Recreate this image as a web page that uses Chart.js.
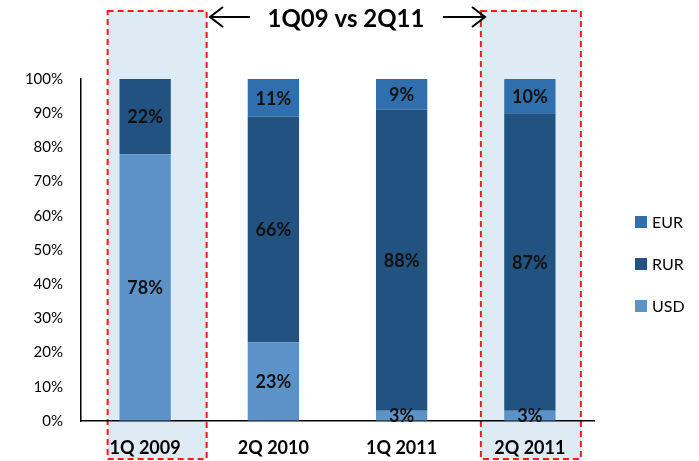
<!DOCTYPE html>
<html>
<head>
<meta charset="utf-8">
<script src="https://cdn.jsdelivr.net/npm/chart.js@4"></script>
<style>
  html, body { margin: 0; padding: 0; background: #fff; }
  #wrap { width: 699px; height: 461px; }
</style>
</head>
<body>
<div id="wrap"><canvas id="chart"></canvas></div>
<script>
const categories = ['1Q 2009', '2Q 2010', '1Q 2011', '2Q 2011'];
const usd = [78, 23, 3, 3];
const rur = [22, 66, 88, 87];
const eur = [0, 11, 9, 10];
const yTicks = [0, 10, 20, 30, 40, 50, 60, 70, 80, 90, 100];
const headline = '1Q09 vs 2Q11';
const highlighted = [0, 3];

const FONT = 'Lato, "Open Sans", sans-serif';

// light blue boxes with red dashed frame behind first and last category
const highlightPlugin = {
    id: 'highlight',
    beforeDraw(chart) {
        const ctx = chart.ctx;
        const x = chart.scales.x;
        const offsets = { 0: [-37.5, 61.5], 3: [-49, 51] };
        ctx.save();
        highlighted.forEach(i => {
            const c = x.getPixelForValue(i);
            const l = c + offsets[i][0], r = c + offsets[i][1];
            const t = 11, b = 459;
            ctx.fillStyle = '#deeaf4';
            ctx.fillRect(l, t, r - l, b - t);
            ctx.strokeStyle = '#ff1a1a';
            ctx.lineWidth = 2;
            ctx.setLineDash([6, 4]);
            ctx.strokeRect(l, t, r - l, b - t);
        });
        ctx.restore();
    }
};

// percentage labels in the middle of each segment
const labelPlugin = {
    id: 'segLabels',
    afterDatasetsDraw(chart) {
        const ctx = chart.ctx;
        ctx.save();
        ctx.font = 'bold 18px ' + FONT;
        ctx.fillStyle = '#111';
        ctx.textAlign = 'center';
        ctx.textBaseline = 'middle';
        chart.data.datasets.forEach((ds, di) => {
            chart.getDatasetMeta(di).data.forEach((bar, i) => {
                const v = ds.data[i];
                if (!v) return;
                const p = bar.getProps(['x', 'y', 'base'], true);
                ctx.fillText(v + '%', p.x, (p.y + p.base) / 2 + 1);
            });
        });
        ctx.restore();
    }
};

// headline with arrows + legend on the right
const headPlugin = {
    id: 'head',
    afterDraw(chart) {
        const ctx = chart.ctx;
        ctx.save();
        ctx.font = 'bold 24px ' + FONT;
        ctx.fillStyle = '#000';
        ctx.textAlign = 'center';
        ctx.textBaseline = 'middle';
        ctx.fillText(headline, 346, 19);

        ctx.strokeStyle = '#000';
        ctx.lineWidth = 2;
        ctx.beginPath();
        ctx.moveTo(250, 17); ctx.lineTo(210, 17);
        ctx.moveTo(223, 7); ctx.lineTo(210, 17); ctx.lineTo(223, 27);
        ctx.moveTo(443, 17); ctx.lineTo(485, 17);
        ctx.moveTo(472, 7); ctx.lineTo(485, 17); ctx.lineTo(472, 27);
        ctx.stroke();

        const items = [2, 1, 0];
        const ys = [222, 264, 306];
        ctx.font = '16px ' + FONT;
        ctx.textAlign = 'left';
        items.forEach((di, k) => {
            const ds = chart.data.datasets[di];
            ctx.fillStyle = ds.backgroundColor;
            ctx.fillRect(635, ys[k] - 6, 12, 12);
            ctx.fillStyle = '#000';
            ctx.fillText(ds.label, 652, ys[k] + 1);
        });
        ctx.restore();
    }
};

new Chart(document.getElementById('chart'), {
    type: 'bar',
    data: {
        labels: categories,
        datasets: [
            { label: 'USD', data: usd, backgroundColor: '#5b93c9' },
            { label: 'RUR', data: rur, backgroundColor: '#22527f' },
            { label: 'EUR', data: eur, backgroundColor: '#306fae' }
        ]
    },
    options: {
        responsive: true,
        maintainAspectRatio: false,
        animation: false,
        layout: { padding: { top: 79, right: 105, bottom: 0, left: 0 } },
        datasets: { bar: { barPercentage: 0.4, categoryPercentage: 1 } },
        scales: {
            x: {
                stacked: true,
                afterFit: (s) => { s.height = 40; },
                grid: { display: false },
                border: { color: '#000', width: 1.5 },
                ticks: { color: '#000', padding: 8, font: { family: FONT, size: 18, weight: 'bold' } }
            },
            y: {
                stacked: true,
                min: 0,
                max: 100,
                afterFit: (s) => { s.width = 81; },
                afterBuildTicks: (s) => { s.ticks = yTicks.map(v => ({ value: v })); },
                grid: { drawOnChartArea: false, drawTicks: false, tickLength: 0 },
                border: { color: '#000', width: 1.5 },
                ticks: {
                    color: '#000',
                    padding: 18,
                    font: { family: FONT, size: 15 },
                    callback: (v) => v + '%'
                }
            }
        },
        plugins: {
            legend: { display: false },
            tooltip: { enabled: false }
        }
    },
    plugins: [highlightPlugin, labelPlugin, headPlugin]
});
</script>
</body>
</html>
